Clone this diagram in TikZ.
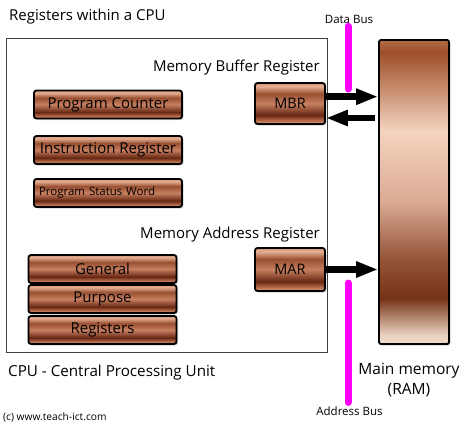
\documentclass[tikz,border=0pt]{standalone}
\usepackage{fontspec}
\setmainfont{Open Sans}
\usetikzlibrary{shapes,arrows.meta,shadows}

\definecolor{busmag}{RGB}{255,0,255}
\pgfdeclareverticalshading{copper}{100bp}{%
  rgb(0bp)=(.90,.67,.55); rgb(25bp)=(.90,.67,.55); rgb(28bp)=(.78,.48,.35);%
  rgb(36bp)=(.40,.15,.07); rgb(50bp)=(.78,.50,.38); rgb(62bp)=(.60,.31,.19);%
  rgb(71bp)=(.90,.69,.58); rgb(75bp)=(.82,.57,.45); rgb(100bp)=(.82,.57,.45)}
\pgfdeclareverticalshading{ramcopper}{100bp}{%
  rgb(0bp)=(.94,.86,.81); rgb(25bp)=(.94,.86,.81); rgb(26.5bp)=(.92,.82,.75);%
  rgb(32.5bp)=(.46,.20,.09); rgb(39bp)=(.58,.33,.22); rgb(48.5bp)=(.86,.67,.58);%
  rgb(60bp)=(.96,.83,.75); rgb(73bp)=(.62,.31,.16); rgb(75bp)=(.69,.42,.28);%
  rgb(100bp)=(.69,.42,.28)}

\begin{document}
\begin{tikzpicture}[x=1pt, y=-1pt, %
      lbl/.style={inner sep=0pt, text=black}, %
      reg/.style={draw=black, line width=1.8pt, rounded corners=2.5pt, shading=copper, %
        minimum width=148pt, minimum height=28pt, inner sep=2pt, text=black, %
        font=\fontsize{15}{17}\selectfont, %
        drop shadow={shadow xshift=1.5pt, shadow yshift=-1.5pt, opacity=.35}}, %
      arr/.style={line width=6.5pt, -{Triangle[length=22pt, width=15pt]}}, %
      bus/.style={line width=7pt, busmag, line cap=round}, %
      ]
    \useasboundingbox (0,0) rectangle (474,426);

    \node[lbl, anchor=west, font=\fontsize{15}{18}\selectfont] (title) at (9,17) {Registers within a CPU};
    \node[draw=black!75, line width=.8pt, minimum width=321pt, minimum height=314pt] (cpu) at (166.5,195) {};
    \node[lbl, anchor=west, font=\fontsize{15.2}{18}\selectfont] (cpulbl) at (8,373) {CPU - Central Processing Unit};
    \node[lbl, anchor=west, font=\fontsize{10.2}{12}\selectfont] (copy) at (3,417) {(c) www.teach-ict.com};

    \foreach \a/\txt/\x/\y in { %
      pc/Program Counter/108/104.5,%
      ir/Instruction Register/108/150,%
      gen/General/102.5/269,%
      pur/Purpose/102.5/299,%
      gpr/Registers/102.5/330%
    }{ %
      \node[reg] (\a) at (\x,\y) {\txt};
      }
    \node[reg, text width=144pt, align=left, font=\fontsize{11.5}{13}\selectfont] (psw) at (108,193) {\hspace{3pt}Program Status Word};

    \node[reg, minimum width=70pt, minimum height=41pt, font=\fontsize{14.5}{17}\selectfont] (mbr) at (290,103.5) {MBR};
    \node[reg, minimum width=70pt, minimum height=43pt, font=\fontsize{14.5}{17}\selectfont] (mar) at (290,269.5) {MAR};
    \node[lbl, anchor=east, font=\fontsize{15}{17}\selectfont] (mbrlbl) at (320,68) {Memory Buffer Register};
    \node[lbl, anchor=east, font=\fontsize{15}{17}\selectfont] (marlbl) at (320,235) {Memory Address Register};

    \node[reg, shading=ramcopper, rounded corners=2pt, minimum width=70pt, minimum height=304pt] (ram) at (414,192) {};
    \node[lbl, align=center, font=\fontsize{15.5}{20}\selectfont] (ramlbl) at (409,380) {Main memory\\(RAM)};

    \node[lbl, font=\fontsize{11.5}{13}\selectfont] (dbus) at (349,19) {Data Bus};
    \node[lbl, font=\fontsize{11.5}{13}\selectfont] (abus) at (349.5,411) {Address Bus};
    \draw[bus] ([yshift=-3pt]dbus.south -| 348,0) -- (348,89);
    \draw[bus] (348,283) -- ([yshift=4pt]abus.north -| 348,0);

    \draw[arr] ([yshift=6.8pt]mbr.east) -- ([yshift=6.8pt]mbr.east -| ram.west);
    \draw[arr] ([yshift=-14.5pt,xshift=-3pt]mbr.east -| ram.west) -- ([yshift=-14.5pt]mbr.east);
    \draw[arr] (mar.east) -- (mar.east -| ram.west);
    \end{tikzpicture}
\end{document}
